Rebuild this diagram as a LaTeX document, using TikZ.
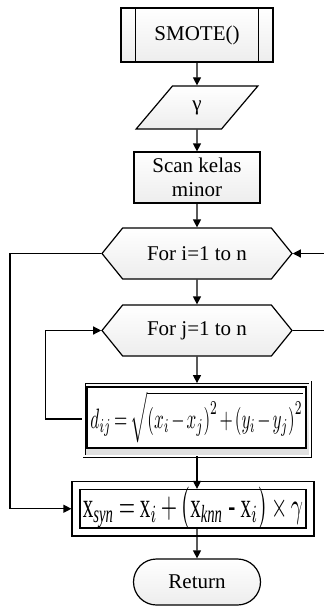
\documentclass[tikz,border=0pt]{standalone}
\usepackage{fontspec}
\setmainfont{Liberation Serif}
\usepackage{amsmath}
\usepackage{graphicx}
\usetikzlibrary{shapes.geometric,shapes.misc,shapes.symbols,arrows.meta}
\tikzset{
  block/.style={draw, line width=1.2pt, top color=white, bottom color=gray!14,
                font=\fontsize{21}{24}\selectfont, inner sep=0pt, align=center},
  procbox/.style={block, rectangle, minimum width=152pt, minimum height=54pt},
  iobox/.style={block, trapezium, trapezium stretches=true, trapezium left angle=64,
                trapezium right angle=116, minimum width=122pt, minimum height=43pt},
  scanbox/.style={block, rectangle, minimum width=126pt, minimum height=51pt},
  loopbox/.style={block, signal, signal to=west and east, signal pointer angle=102,
                  minimum width=190pt, minimum height=51pt},
  framebox/.style={draw, line width=0.8pt, double, double distance=1.4pt,
                   top color=gray!5, bottom color=gray!25, minimum width=226pt, minimum height=74pt},
  calcbox/.style={draw, line width=1.2pt, fill=white, inner sep=0pt},
  synbox/.style={draw, line width=1.2pt, double, double distance=6.8pt, fill=white,
                 inner sep=0pt, minimum width=234pt, minimum height=46.5pt},
  endbox/.style={block, rounded rectangle, minimum width=127pt, minimum height=46pt},
  flow/.style={->, line width=1.2pt},
}

\begin{document}
\begin{tikzpicture}[x=1pt, y=-1pt, >={Triangle[length=8pt,width=8pt]}]
    \useasboundingbox (0,0) rectangle (324,608);
    % main column
    \node[procbox] (smote) at (197, 35) {SMOTE()};
    \draw[line width=1.2pt] ([xshift=15pt]smote.north west) -- ([xshift=15pt]smote.south west);
    \draw[line width=1.2pt] ([xshift=-15pt]smote.north east) -- ([xshift=-15pt]smote.south east);
    \node[iobox] (gamma) at (197, 107.5) {γ};
    \node[scanbox] (scan) at (197, 177.5) {Scan kelas\\minor};
    \node[loopbox] (fori) at (197, 253.5) {For i=1 to n};
    \node[loopbox] (forj) at (197, 330.5) {For j=1 to n};
    \node[framebox] (distbox) at (197, 419) {};
    \node[calcbox, minimum width=219pt, minimum height=61pt] (dist) at (196.5, 417.5)
      {\resizebox{212pt}{37pt}{\medmuskip=2mu\thickmuskip=3mu
       $d_{ij}=\sqrt{\left(x_i-x_j\right)^2+\left(y_i-y_j\right)^2}$}};
    \node[synbox] (syn) at (193, 508.75)
      {\resizebox{220pt}{30pt}{\medmuskip=3mu\thickmuskip=4mu
       $\mathrm{x}_{\mathit{syn}}=\mathrm{x}_i+\bigl(\mathrm{x}_{\mathit{knn}}\text{ - }\mathrm{x}_i\bigr)\times\gamma$}};
    \node[endbox] (ret) at (197, 582) {Return};
    % free ends at the right edge
    \coordinate (rin) at (324, 253.5);
    \coordinate (rout) at (324, 330.5);

    \draw[flow] (smote) -- (gamma);
    \draw[flow] (gamma) -- (scan);
    \draw[flow] (scan) -- (fori);
    \draw[flow] (fori) -- (forj);
    \draw[flow] (forj) -- ([yshift=-1.5pt]distbox.north);
    \draw[flow] (distbox.south) -- ([yshift=-4pt]distbox.south |- syn.north);
    \draw[flow] ([yshift=4pt]syn.south -| ret.north) -- (ret);
    \draw[flow] (rin) -- (fori.east);
    \draw[line width=1.2pt] (forj.east) -- (rout);
    \draw[flow] ([xshift=-2pt]distbox.west) -- ++(-36pt,0) |- (forj.west);
    \draw[flow] (fori.west) -- (10, 253.5) |- ([xshift=-4pt]syn.west);
  \end{tikzpicture}
\end{document}
